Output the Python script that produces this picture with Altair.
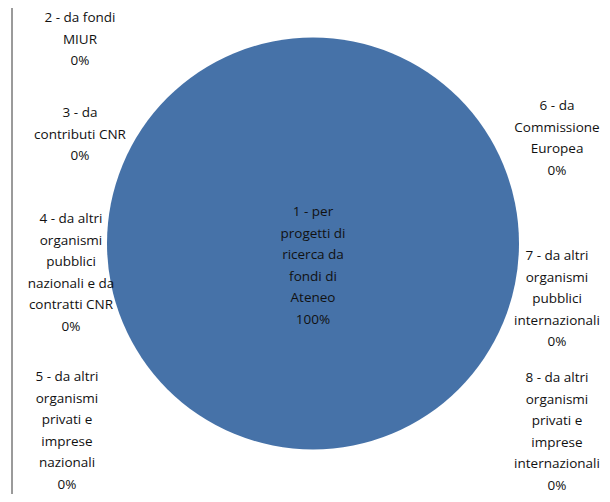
import altair as alt
import pandas as pd

# --- data ---
categories = [
    "1 - per progetti di ricerca da fondi di Ateneo",
    "2 - da fondi MIUR",
    "3 - da contributi CNR",
    "4 - da altri organismi pubblici nazionali e da contratti CNR",
    "5 - da altri organismi privati e imprese nazionali",
    "6 - da Commissione Europea",
    "7 - da altri organismi pubblici internazionali",
    "8 - da altri organismi privati e imprese internazionali",
]
values = [100, 0, 0, 0, 0, 0, 0, 0]
percent_labels = ["100%", "0%", "0%", "0%", "0%", "0%", "0%", "0%"]
label_lines = [
    ["1 - per", "progetti di", "ricerca da", "fondi di", "Ateneo"],
    ["2 - da fondi", "MIUR"],
    ["3 - da", "contributi CNR"],
    ["4 - da altri", "organismi", "pubblici", "nazionali e da", "contratti CNR"],
    ["5 - da altri", "organismi", "privati e", "imprese", "nazionali"],
    ["6 - da", "Commissione", "Europea"],
    ["7 - da altri", "organismi", "pubblici", "internazionali"],
    ["8 - da altri", "organismi", "privati e", "imprese", "internazionali"],
]

# --- layout (label placement: centre x and first-line y, in chart pixels) ---
label_x = [305, 72, 72, 63, 59, 549, 549, 549]
label_y = [204, 10, 105, 211, 369, 98, 248, 370]

W, H = 594, 486

df = pd.DataFrame({
    "categoria": categories,
    "valore": values,
    "ordine": list(range(len(categories))),
})

lab = pd.DataFrame({
    "testo": ["\n".join(l + [p]) for l, p in zip(label_lines, percent_labels)],
    "lx": label_x,
    "ly": label_y,
})

pie = alt.Chart(df).mark_arc(outerRadius=206, stroke=None).encode(
    theta=alt.Theta("valore:Q", stack=True),
    order=alt.Order("ordine:Q"),
    fill=alt.value("#4672A8"),
    x=alt.value(305),
    y=alt.value(235.5),
)

labels = alt.Chart(lab).mark_text(
    font="Open Sans",
    fontSize=13.5,
    lineBreak="\n",
    lineHeight=21.6,
    align="center",
    baseline="middle",
    color="#111111",
).encode(
    x=alt.X("lx:Q", scale=alt.Scale(domain=[0, W], range=[0, W]), axis=None),
    y=alt.Y("ly:Q", scale=alt.Scale(domain=[0, H], range=[0, H]), axis=None),
    text="testo:N",
)

border = alt.Chart(df).mark_rule(color="#9a9a9a", strokeWidth=1).encode(
    x=alt.value(4), y=alt.value(0), y2=alt.value(H)
)

chart = alt.layer(border, pie, labels).properties(
    width=W,
    height=H,
    padding=0,
    autosize=alt.AutoSizeParams(type="none"),
).configure_view(stroke=None)

chart.save("out.html", embed_options={"renderer": "svg", "actions": False})
